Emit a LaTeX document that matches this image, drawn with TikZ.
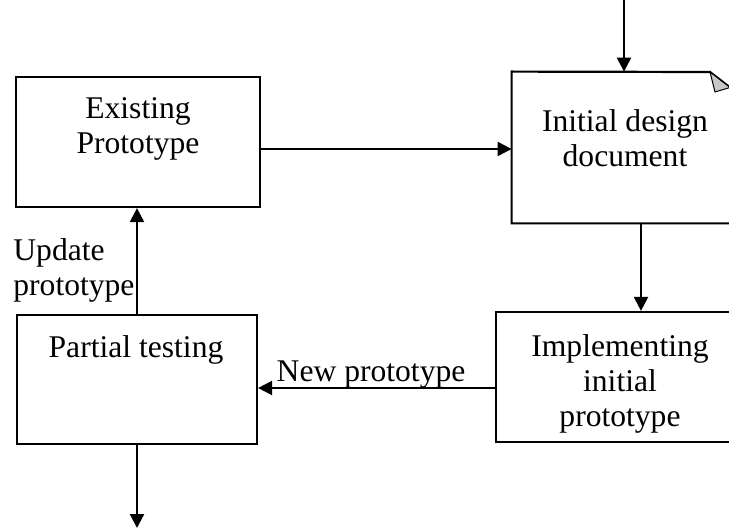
\documentclass[tikz,border=0pt]{standalone}
\usepackage{fontspec}
\setmainfont{Liberation Serif}
\usetikzlibrary{arrows.meta}
\tikzset{
  procbox/.style={draw, line width=1.1pt, inner sep=0pt},
  anchorbox/.style={inner sep=0pt},
  lbl/.style={font=\fontsize{15.8}{17.5}\selectfont, align=center, inner sep=0pt},
  arr/.style={line width=1.1pt, -{Triangle[length=7pt,width=7pt]}},
}
\begin{document}
\begin{tikzpicture}[x=0.5pt,y=-0.5pt]
\useasboundingbox (0,0) rectangle (729,529);
\clip (0,0) rectangle (729,529);

% boxes
\node[procbox, minimum width=122pt, minimum height=65pt] (ex) at (138,142) {};
\node[lbl] (extxt) at (138,128.5) {Existing\\Prototype};

\node[anchorbox, minimum width=110pt, minimum height=75.5pt] (idd) at (622,147.5) {};
\draw[line width=1.1pt] (idd.north west) -- (710,72) -- (732,89) -- (idd.south east)
  -- (idd.south west) -- cycle;
\filldraw[fill=black!22, line width=0.5pt, line join=round] (710,72) -- (715,92) -- (730,87.5) -- cycle;
\node[lbl] (iddtxt) at (625,138.5) {Initial design\\document};

\node[procbox, minimum width=145pt, minimum height=65pt] (impl) at (641,377) {};
\node[lbl] (impltxt) at (620,383.5) {Implementing\\initial\\prototype};

\node[procbox, minimum width=120pt, minimum height=64.5pt] (part) at (137,379.5) {};
\node[lbl] (parttxt) at (136,349.5) {Partial testing};

\node[lbl, align=left, anchor=west] (updtxt) at (13,270) {Update\\prototype};

% free ends
\coordinate (src) at (624,0);
\coordinate (sink) at (137,528);

% connectors
\draw[arr] (src) -- (src |- idd.north);
\draw[arr] ([yshift=-3.5pt]ex.east) -- ([yshift=-3.5pt]ex.east -| idd.west);
\draw[arr] (idd.south -| impl.north) -- (impl.north);
\draw[arr] ([yshift=-5.5pt]impl.west) -- ([yshift=-5.5pt]impl.west -| part.east)
  node[lbl, pos=0.523, anchor=base, yshift=3.3pt] (newlbl) {New prototype};
\draw[arr] (part.north) -- (part.north |- ex.south);
\draw[arr] (part.south) -- (sink);
\end{tikzpicture}
\end{document}
